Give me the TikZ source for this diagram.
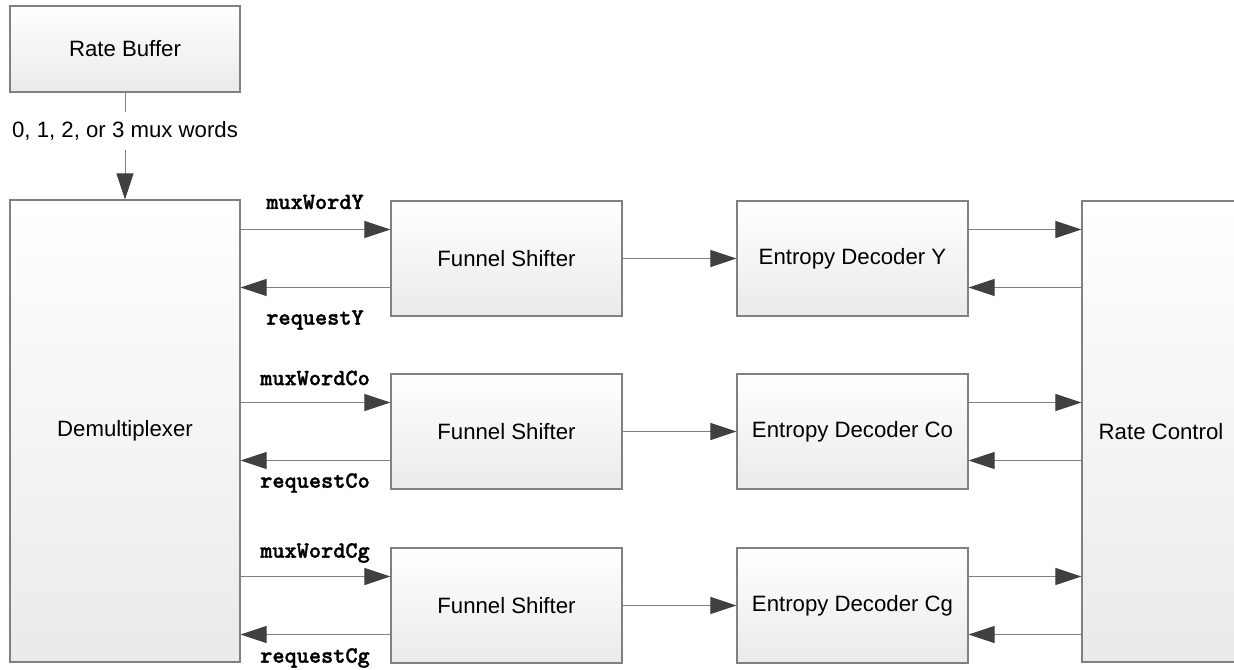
\documentclass[tikz,border=0pt]{standalone}
\usepackage{fontspec}
\setmainfont{Liberation Sans}
\newfontfamily\sigfont{lmmonolt10-bold.otf}[FakeBold=1.5]
\usetikzlibrary{arrows.meta}
\definecolor{linegray}{HTML}{808080}
\definecolor{tipgray}{HTML}{404040}
\definecolor{shadegray}{HTML}{EAEAEA}
\begin{document}
\begin{tikzpicture}[x=0.5pt,y=-0.5pt,>={Triangle[length=13pt,width=8.5pt,color=tipgray]},font=\fontsize{11.1}{13}\selectfont,
		blk/.style={draw=linegray,line width=0.6pt,top color=white,bottom color=shadegray,inner sep=0pt,minimum width=115.5pt,minimum height=57.5pt},
		sig/.style={font=\fontsize{11.6}{13}\selectfont\sigfont},
		link/.style={draw=linegray,line width=0.5pt}]
				\useasboundingbox (0,0) rectangle (1234,669);
				% blocks
				\node[blk,minimum width=115pt,minimum height=43pt] (buf) at (125,49) {Rate Buffer};
				\node[blk,minimum width=115pt,minimum height=231pt] (demux) at (125,431) {Demultiplexer};
				\node[blk] (fsy) at (506.5,258.5) {Funnel Shifter};
				\node[blk] (fsco) at (506.5,431.5) {Funnel Shifter};
				\node[blk] (fscg) at (506.5,605.5) {Funnel Shifter};
				\node[blk] (edy) at (852.5,258.5) {Entropy Decoder Y};
				\node[blk] (edco) at (852.5,431.5) {Entropy Decoder Co};
				\node[blk] (edcg) at (852.5,605.5) {Entropy Decoder Cg};
				\node[blk,minimum width=79pt,minimum height=230.5pt] (rc) at (1161,431.5) {Rate Control};
				\node[fill=white,inner sep=0pt,minimum height=18.5pt] (words) at (125,131) {0, 1, 2, or 3 mux words};
				\draw[link] (buf) -- (words);
				\draw[link,->] (words) -- (demux);
				% ports
				\coordinate (fsyin) at ([yshift=14.5pt]fsy.west); \coordinate (fsyout) at ([yshift=-14.5pt]fsy.west);
				\coordinate (fscoin) at ([yshift=14.5pt]fsco.west); \coordinate (fscoout) at ([yshift=-14.5pt]fsco.west);
				\coordinate (fscgin) at ([yshift=14.5pt]fscg.west); \coordinate (fscgout) at ([yshift=-14.5pt]fscg.west);
				\coordinate (edyout) at ([yshift=14.5pt]edy.east); \coordinate (edyin) at ([yshift=-14.5pt]edy.east);
				\coordinate (edcoout) at ([yshift=14.5pt]edco.east); \coordinate (edcoin) at ([yshift=-14.5pt]edco.east);
				\coordinate (edcgout) at ([yshift=14.5pt]edcg.east); \coordinate (edcgin) at ([yshift=-14.5pt]edcg.east);
				% Y
				\draw[link,->] (demux.east |- fsyin) -- (fsyin);
				\draw[link,->] (fsyout) -- (demux.east |- fsyout);
				\draw[link,->] (fsy) -- (edy);
				\draw[link,->] (edyout) -- (rc.west |- edyout);
				\draw[link,->] (rc.west |- edyin) -- (edyin);
				% Co
				\draw[link,->] (demux.east |- fscoin) -- (fscoin);
				\draw[link,->] (fscoout) -- (demux.east |- fscoout);
				\draw[link,->] (fsco) -- (edco);
				\draw[link,->] (edcoout) -- (rc.west |- edcoout);
				\draw[link,->] (rc.west |- edcoin) -- (edcoin);
				% Cg
				\draw[link,->] (demux.east |- fscgin) -- (fscgin);
				\draw[link,->] (fscgout) -- (demux.east |- fscgout);
				\draw[link,->] (fscg) -- (edcg);
				\draw[link,->] (edcgout) -- (rc.west |- edcgout);
				\draw[link,->] (rc.west |- edcgin) -- (edcgin);
				% signal names
				\node[sig] (muxy) at (315,202) {muxWordY};
				\node[sig] (reqy) at (315,320) {requestY};
				\node[sig] (muxco) at (315,378) {muxWordCo};
				\node[sig] (reqco) at (315,483) {requestCo};
				\node[sig] (muxcg) at (315,553) {muxWordCg};
				\node[sig] (reqcg) at (315,658) {requestCg};
			\end{tikzpicture}
\end{document}
